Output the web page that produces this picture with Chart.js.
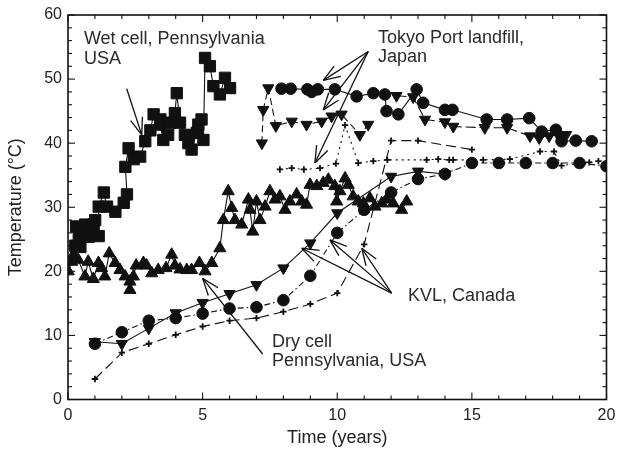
<!DOCTYPE html>
<html><head><meta charset="utf-8">
<script src="https://cdn.jsdelivr.net/npm/chart.js@4/dist/chart.umd.min.js"></script>
<style>html,body{margin:0;padding:0;background:#fff}#wrap{width:617px;height:450px}</style>
</head><body><div id="wrap"><canvas id="c" width="617" height="450"></canvas></div>
<script>
// ---- data ----
const xTickLabels = [0, 5, 10, 15, 20];
const yTickLabels = [0, 10, 20, 30, 40, 50, 60];

const wetCellX = [0.27,0.30,0.40,0.46,0.55,0.64,0.77,0.85,0.95,1.01,1.14,1.14,1.33,1.45,1.76,2.07,2.19,2.13,2.25,2.44,2.68,2.87,3.06,3.18,3.43,3.42,3.54,3.72,3.79,3.97,4.04,4.16,4.34,4.47,4.59,4.78,4.84,4.96,5.03,5.09,5.27,5.40,5.64,5.83,6.02];
const wetCellY = [24.0,27.0,25.4,23.8,26.0,27.3,25.4,26.5,27.3,28.0,25.5,30.1,32.3,30.1,29.3,30.7,32.0,36.3,39.2,37.5,37.9,40.3,42.0,44.5,43.7,42.9,40.5,41.3,43.2,44.7,47.8,43.2,41.3,40.0,39.0,41.6,42.9,43.7,40.5,53.3,52.0,48.9,47.6,50.2,48.6];

const dryCellX = [0.01,0.14,0.20,0.38,0.63,0.75,0.94,1.13,1.25,1.37,1.53,1.75,1.93,2.12,2.30,2.30,2.43,2.53,2.80,2.92,3.11,3.35,3.64,3.85,3.97,4.16,4.41,4.59,4.88,5.09,5.34,5.64,5.77,5.95,6.08,6.20,6.45,6.70,6.76,6.86,7.00,7.13,7.32,7.50,7.69,7.87,8.06,8.24,8.49,8.68,8.86,8.99,9.24,9.48,9.67,9.91,9.98,10.10,10.29,10.41,10.59,10.78,10.97,11.21,11.40,11.65,11.83,12.08,12.39,12.58];
const dryCellY = [20.0,21.5,22.6,21.8,19.2,21.5,18.8,21.3,20.5,19.2,22.8,21.3,20.2,19.2,18.4,17.1,19.2,20.9,21.3,20.9,19.7,20.2,20.5,22.6,20.9,20.3,20.2,20.2,21.3,20.0,21.3,23.6,28.0,32.5,29.9,28.0,27.3,31.2,29.6,26.2,30.9,28.0,30.1,32.5,31.2,31.7,29.6,30.9,32.0,30.9,30.4,33.5,33.3,33.8,34.3,33.3,30.9,32.5,34.5,33.5,31.7,30.9,30.6,31.4,30.1,30.6,31.2,30.6,29.6,30.9];

const tokyoCircleX = [7.93,8.27,8.89,9.05,9.28,9.91,10.72,11.34,11.77,11.83,12.27,12.95,13.19,14.00,14.28,15.55,16.31,17.13,17.59,18.12,18.33,18.86,19.45];
const tokyoCircleY = [48.5,48.5,48.4,48.0,48.4,48.4,47.3,47.8,47.6,45.0,44.5,48.4,46.3,45.2,45.2,43.7,43.7,43.9,41.8,42.1,40.3,40.4,40.3];

const tokyoTriAX = [7.20,7.25,7.44,7.72,8.31,8.86,9.42,9.79,10.16,10.84,11.15];
const tokyoTriAY = [40.0,45.2,48.6,42.7,43.4,42.9,43.4,44.2,44.5,41.3,42.9];

const tokyoTriBX = [12.20,12.82,13.26,14.00,14.31,15.48,16.31,17.16,17.50,17.87,18.20,18.50];
const tokyoTriBY = [47.4,47.2,43.7,43.3,42.6,42.4,42.4,41.1,40.8,41.1,41.3,41.3];

const tokyoPlusX = [7.87,8.31,8.76,9.36,9.95,10.29,10.78,11.34,11.86,13.32,13.75,14.16,14.30,15.42,16.41,17.53,18.05,18.33,19.36,19.70];
const tokyoPlusY = [35.9,36.1,35.9,36.1,36.8,42.8,36.9,37.2,37.4,37.4,37.5,37.4,37.4,37.4,37.5,38.7,38.7,36.5,37.0,37.2];

const kvlTriX = [1,2,3,4,5,6,7,8,9,10,12,13,14];
const kvlTriY = [9.0,8.7,11.1,13.5,15.1,16.5,17.9,20.5,24.4,29.1,34.8,35.6,35.2];

const kvlCircleX = [1,2,3,4,5,6,7,8,9,10,11,12,13,14,15,16,17,18,19,20];
const kvlCircleY = [8.7,10.5,12.3,12.7,13.4,14.2,14.4,15.5,19.3,26.0,29.6,32.3,34.4,35.2,36.9,36.9,36.9,36.9,36.9,36.4];

const kvlPlusX = [1,2,3,4,5,6,7,8,9,10,11,12,13,15];
const kvlPlusY = [3.2,7.3,8.7,10.1,11.4,12.3,12.7,13.7,14.9,16.6,24.2,40.4,40.4,39.0];

// annotation texts (positions in data units)
const labels = [
  {text:'Wet cell, Pennsylvania', x:0.59, y:55.4},
  {text:'USA', x:0.59, y:52.3},
  {text:'Tokyo Port landfill,', x:11.51, y:55.7},
  {text:'Japan', x:11.51, y:52.6},
  {text:'KVL, Canada', x:12.63, y:15.3},
  {text:'Dry cell', x:7.58, y:8.25},
  {text:'Pennsylvania, USA', x:7.58, y:5.3}
];
const arrows = [
  {from:[2.18,48.5], to:[2.74,41.3]},
  {from:[11.15,54.3], to:[9.48,49.8]},
  {from:[11.15,54.3], to:[9.48,45.2]},
  {from:[11.15,54.3], to:[9.17,36.9]},
  {from:[7.23,7.1], to:[5.0,18.9]},
  {from:[12.02,16.6], to:[8.68,23.6]},
  {from:[12.02,16.6], to:[9.73,24.9]},
  {from:[12.02,16.6], to:[10.91,23.6]}
];

const pts = (xs, ys) => xs.map((v, i) => ({x: v, y: ys[i]}));
const INK = '#111';
function ds(xs, ys, style, radius, dash, extra) {
  return Object.assign({
    data: pts(xs, ys), showLine: true, borderColor: INK, backgroundColor: INK,
    borderWidth: 1.1, borderDash: dash, pointStyle: style, pointRadius: radius,
    pointBorderColor: INK, pointBackgroundColor: INK, pointBorderWidth: 1
  }, extra || {});
}

const FONT = "'Liberation Sans', Arial, Helvetica, sans-serif";

const decor = {
  id: 'decor',
  afterDatasetsDraw(chart) {
    const {ctx, chartArea: a, scales: {x, y}} = chart;
    ctx.save();
    ctx.strokeStyle = INK;
    ctx.lineWidth = 1.6;
    ctx.setLineDash([]);
    ctx.strokeRect(a.left, a.top, a.right - a.left, a.bottom - a.top);
    ctx.lineWidth = 1.1;
    const seg = (x1, y1, x2, y2) => { ctx.beginPath(); ctx.moveTo(x1, y1); ctx.lineTo(x2, y2); ctx.stroke(); };
    for (let v = x.min; v <= x.max; v += 1) {
      const p = x.getPixelForValue(v), L = v % 5 === 0 ? 7 : 4;
      seg(p, a.bottom, p, a.bottom - L); seg(p, a.top, p, a.top + L);
    }
    for (let v = y.min; v <= y.max; v += 2) {
      const p = y.getPixelForValue(v), L = v % 10 === 0 ? 7 : 4;
      seg(a.left, p, a.left + L, p); seg(a.right, p, a.right - L, p);
    }
    // arrows
    ctx.lineWidth = 1.3;
    arrows.forEach(ar => {
      const x1 = x.getPixelForValue(ar.from[0]), y1 = y.getPixelForValue(ar.from[1]);
      const x2 = x.getPixelForValue(ar.to[0]), y2 = y.getPixelForValue(ar.to[1]);
      seg(x1, y1, x2, y2);
      const ang = Math.atan2(y1 - y2, x1 - x2), h = 18, w = 0.35;
      seg(x2, y2, x2 + h * Math.cos(ang + w), y2 + h * Math.sin(ang + w));
      seg(x2, y2, x2 + h * Math.cos(ang - w), y2 + h * Math.sin(ang - w));
    });
    // texts
    ctx.fillStyle = '#2a2a2a';
    ctx.font = '18px ' + FONT;
    ctx.textAlign = 'left';
    ctx.textBaseline = 'alphabetic';
    labels.forEach(l => ctx.fillText(l.text, x.getPixelForValue(l.x), y.getPixelForValue(l.y)));
    ctx.restore();
  }
};

new Chart(document.getElementById('c'), {
  type: 'scatter',
  data: {
    datasets: [
      ds(wetCellX, wetCellY, 'rect', 8.0, []),
      ds(dryCellX, dryCellY, 'triangle', 7, []),
      ds(tokyoTriAX, tokyoTriAY, 'triangle', 6.5, [7, 4], {pointRotation: 180}),
      ds(tokyoTriBX, tokyoTriBY, 'triangle', 6.5, [10, 4], {pointRotation: 180}),
      ds(tokyoCircleX, tokyoCircleY, 'circle', 5.8, []),
      ds(tokyoPlusX, tokyoPlusY, 'crossRot', 0, [2, 4]),
      ds(tokyoPlusX, tokyoPlusY, 'cross', 3.2, [2, 4], {showLine: false, pointBorderWidth: 1.8}),
      ds(kvlTriX, kvlTriY, 'triangle', 6.5, [], {pointRotation: 180}),
      ds(kvlCircleX, kvlCircleY, 'circle', 5.8, [6, 3, 1.5, 3]),
      ds(kvlPlusX, kvlPlusY, 'cross', 3.2, [10, 5], {pointBorderWidth: 1.8})
    ]
  },
  options: {
    responsive: false, animation: false,
    layout: {padding: {left: 0, right: 10.5, top: 15, bottom: 0}},
    plugins: {legend: {display: false}, tooltip: {enabled: false}},
    scales: {
      x: {
        type: 'linear', min: 0, max: 20,
        afterFit: s => { s.height = 50.5; s.paddingLeft = 0; s.paddingRight = 0; },
        afterBuildTicks: s => { s.ticks = xTickLabels.map(v => ({value: v})); },
        grid: {display: false, drawTicks: false}, border: {display: false},
        ticks: {color: '#222', font: {family: FONT, size: 16}, padding: 6, maxRotation: 0},
        title: {display: true, text: 'Time (years)', color: '#222', font: {family: FONT, size: 18}, padding: {top: 3, bottom: 1}}
      },
      y: {
        type: 'linear', min: 0, max: 60,
        afterFit: s => { s.width = 68; s.paddingTop = 0; s.paddingBottom = 0; },
        afterBuildTicks: s => { s.ticks = yTickLabels.map(v => ({value: v})); },
        grid: {display: false, drawTicks: false}, border: {display: false},
        ticks: {color: '#222', font: {family: FONT, size: 16}, padding: 6},
        title: {display: true, text: 'Temperature (°C)', color: '#222', font: {family: FONT, size: 18}, padding: {top: 5, bottom: 0}}
      }
    }
  },
  plugins: [decor]
});
</script>
</body></html>
